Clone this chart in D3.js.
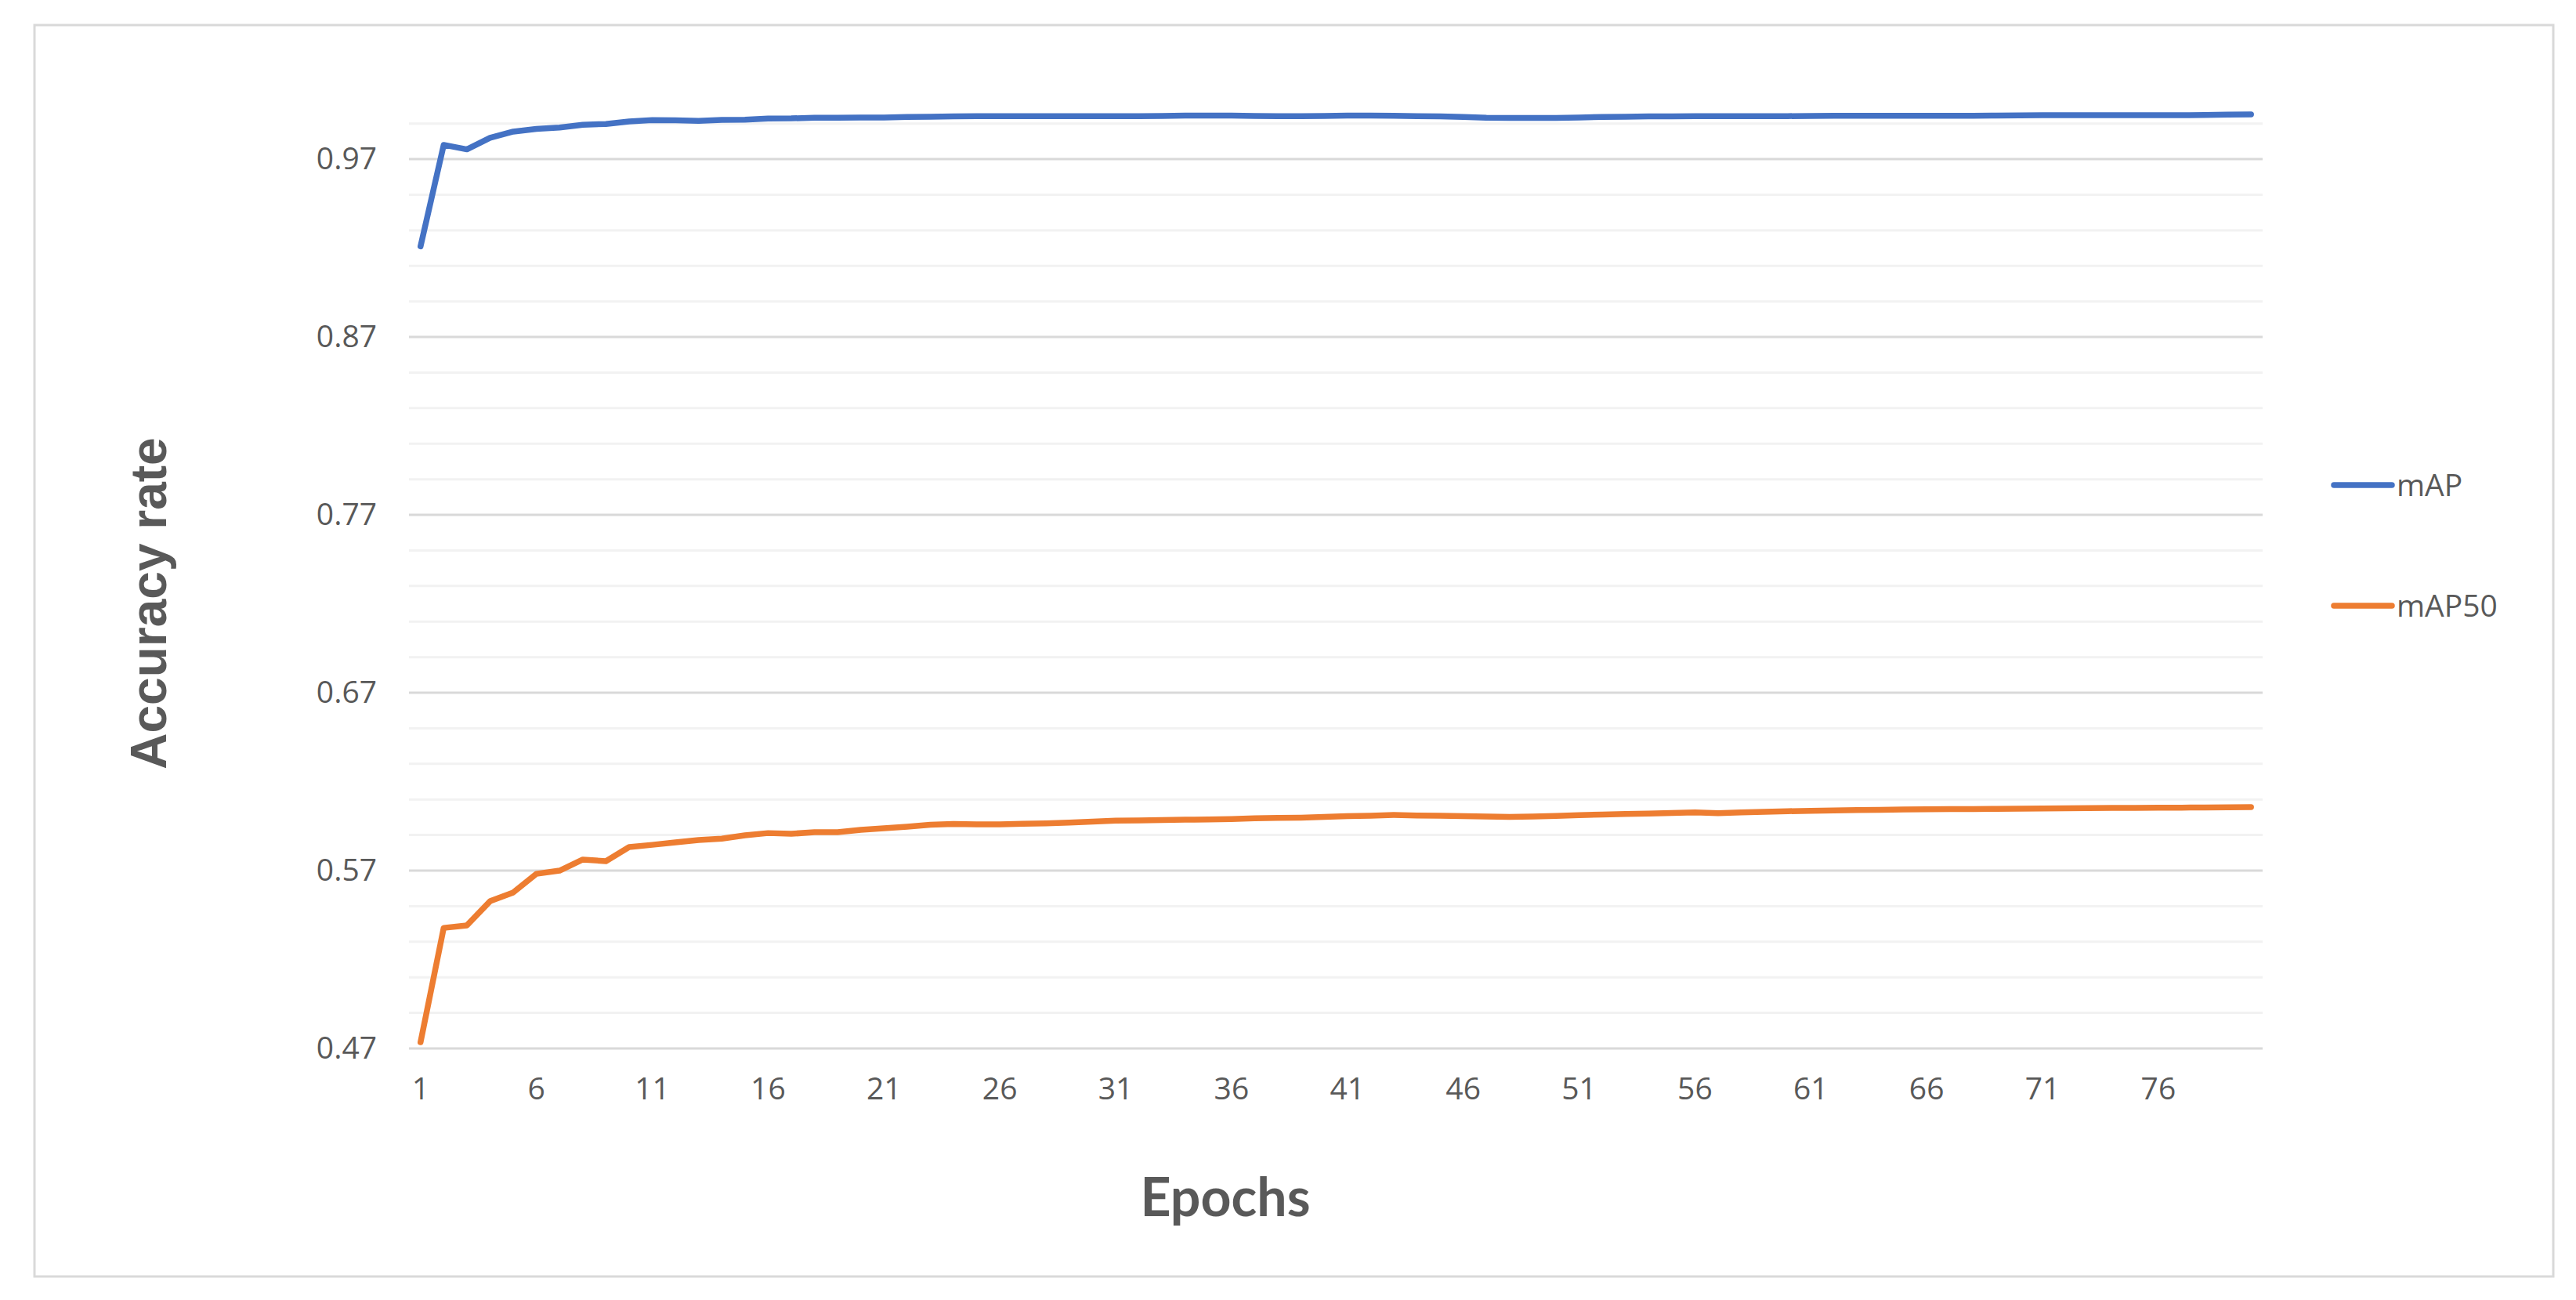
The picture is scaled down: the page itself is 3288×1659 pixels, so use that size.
<!DOCTYPE html>
<html>
<head>
<meta charset="utf-8">
<script src="https://cdn.jsdelivr.net/npm/d3@7"></script>
<style>
  html, body { margin: 0; padding: 0; background: #ffffff; }
  svg { display: block; }
</style>
</head>
<body>
<div id="chart"></div>
<script>
// Chart data
const epochs = d3.range(1, 81);

const mAP = [
  0.921, 0.978, 0.9755, 0.982, 0.9855, 0.987, 0.9878, 0.9893, 0.9898, 0.9912,
  0.992, 0.9918, 0.9915, 0.9921, 0.9922, 0.9928, 0.9929, 0.9933, 0.9933, 0.9934,
  0.9934, 0.9937, 0.9938, 0.9941, 0.9942, 0.9942, 0.9942, 0.9942, 0.9942, 0.9942,
  0.9942, 0.9942, 0.9943, 0.9945, 0.9945, 0.9945, 0.9943, 0.9942, 0.9942, 0.9943,
  0.9945, 0.9945, 0.9944, 0.9942, 0.9941, 0.9937, 0.9933, 0.9932, 0.9932, 0.9932,
  0.9934, 0.9937, 0.9938, 0.994, 0.9941, 0.9942, 0.9942, 0.9942, 0.9942, 0.9942,
  0.9943, 0.9944, 0.9944, 0.9944, 0.9944, 0.9944, 0.9944, 0.9944, 0.9945, 0.9946,
  0.9947, 0.9947, 0.9947, 0.9947, 0.9947, 0.9947, 0.9947, 0.9948, 0.995, 0.9952
];

const mAP50 = [
  0.4735, 0.5378, 0.5392, 0.5528, 0.5577, 0.5682, 0.570, 0.5762, 0.5753, 0.5832,
  0.5845, 0.5859, 0.5872, 0.588, 0.5898, 0.5911, 0.5907, 0.5916, 0.5916, 0.5929,
  0.5938, 0.5947, 0.5958, 0.5962, 0.596, 0.596, 0.5963, 0.5966, 0.597, 0.5975,
  0.5981, 0.5982, 0.5984, 0.5986, 0.5988, 0.599, 0.5994, 0.5996, 0.5998, 0.6002,
  0.6006, 0.6009, 0.6013, 0.6010, 0.6008, 0.6006, 0.6004, 0.6002, 0.6004, 0.6007,
  0.6012, 0.6015, 0.6018, 0.6021, 0.6024, 0.6027, 0.6023, 0.6027, 0.6031, 0.6034,
  0.6036, 0.6038, 0.604, 0.6042, 0.6044, 0.6045, 0.6046, 0.6046, 0.6047, 0.6048,
  0.6049, 0.605, 0.6051, 0.6052, 0.6053, 0.6054, 0.6054, 0.6055, 0.6056, 0.6057
];

const series = [
  { name: "mAP", values: mAP, color: "#4472C4" },
  { name: "mAP50", values: mAP50, color: "#ED7D31" }
];

const yMajorTicks = [0.47, 0.57, 0.67, 0.77, 0.87, 0.97];
const xTickLabels = [1, 6, 11, 16, 21, 26, 31, 36, 41, 46, 51, 56, 61, 66, 71, 76];

// Layout
const width = 3288;
const height = 1659;
const plot = { left: 522, right: 2888, top: 135, bottom: 1338 };

const svg = d3
  .select("#chart")
  .append("svg")
  .attr("width", width)
  .attr("height", height);

svg.append("rect")
  .attr("width", width)
  .attr("height", height)
  .attr("fill", "#ffffff");

// Outer chart border
svg.append("rect")
  .attr("x", 44)
  .attr("y", 32)
  .attr("width", 3215)
  .attr("height", 1597)
  .attr("fill", "none")
  .attr("stroke", "#d9d9d9")
  .attr("stroke-width", 3);

const x = d3.scaleBand()
  .domain(epochs)
  .range([plot.left, plot.right])
  .padding(0);

const y = d3.scaleLinear()
  .domain([0.47, 1.0])
  .range([plot.bottom, plot.top]);

const xc = (e) => x(e) + x.bandwidth() / 2;

// Minor gridlines every 0.02
const minorTicks = d3.range(0, 27).map((k) => +(0.47 + k * 0.02).toFixed(2));

svg.append("g")
  .selectAll("line.minor")
  .data(minorTicks.filter((v) => !yMajorTicks.includes(v)))
  .join("line")
  .attr("class", "minor")
  .attr("x1", plot.left)
  .attr("x2", plot.right)
  .attr("y1", (d) => y(d))
  .attr("y2", (d) => y(d))
  .attr("stroke", "#f2f2f2")
  .attr("stroke-width", 3);

// Major gridlines
svg.append("g")
  .selectAll("line.major")
  .data(yMajorTicks)
  .join("line")
  .attr("class", "major")
  .attr("x1", plot.left)
  .attr("x2", plot.right)
  .attr("y1", (d) => y(d))
  .attr("y2", (d) => y(d))
  .attr("stroke", "#d9d9d9")
  .attr("stroke-width", 3);

// Y axis labels
const yAxis = d3.axisLeft(y)
  .tickValues(yMajorTicks)
  .tickFormat(d3.format(".2f"))
  .tickSize(0)
  .tickPadding(0);

const yAxisG = svg.append("g")
  .attr("transform", `translate(481,0)`)
  .call(yAxis);
yAxisG.select(".domain").remove();
yAxisG.selectAll("text")
  .attr("fill", "#595959")
  .style("font-family", "'Open Sans', sans-serif")
  .style("font-size", "39px");

// X axis labels
const xAxis = d3.axisBottom(x)
  .tickValues(xTickLabels)
  .tickSize(0)
  .tickPadding(0);

const xAxisG = svg.append("g")
  .attr("transform", `translate(0,1375)`)
  .call(xAxis);
xAxisG.select(".domain").remove();
xAxisG.selectAll("text")
  .attr("fill", "#595959")
  .style("font-family", "'Open Sans', sans-serif")
  .style("font-size", "39px");

// Lines
const line = d3.line()
  .x((d, i) => xc(epochs[i]))
  .y((d) => y(d));

svg.append("g")
  .selectAll("path.series")
  .data(series)
  .join("path")
  .attr("class", "series")
  .attr("d", (s) => line(s.values))
  .attr("fill", "none")
  .attr("stroke", (s) => s.color)
  .attr("stroke-width", 7.5)
  .attr("stroke-linejoin", "round")
  .attr("stroke-linecap", "round");

// Axis titles
svg.append("text")
  .attr("transform", "translate(212,770) rotate(-90)")
  .attr("text-anchor", "middle")
  .attr("fill", "#595959")
  .style("font-family", "'Liberation Sans Narrow', 'Arial Narrow', sans-serif")
  .style("font-stretch", "condensed")
  .style("font-weight", "bold")
  .style("font-size", "64px")
  .text("Accuracy rate");

svg.append("text")
  .attr("x", 1564)
  .attr("y", 1552)
  .attr("text-anchor", "middle")
  .attr("fill", "#595959")
  .style("font-family", "Lato, sans-serif")
  .style("font-weight", "bold")
  .style("font-size", "68px")
  .text("Epochs");

// Legend
const legend = svg.append("g")
  .selectAll("g.legend")
  .data(series)
  .join("g")
  .attr("class", "legend")
  .attr("transform", (d, i) => `translate(2979,${619 + i * 154})`);

legend.append("line")
  .attr("x1", 0)
  .attr("x2", 74)
  .attr("y1", 0)
  .attr("y2", 0)
  .attr("stroke", (d) => d.color)
  .attr("stroke-width", 7.5)
  .attr("stroke-linecap", "round");

legend.append("text")
  .attr("x", 80)
  .attr("y", 14)
  .attr("fill", "#595959")
  .style("font-family", "'Open Sans', sans-serif")
  .style("font-size", "39px")
  .text((d) => d.name);
</script>
</body>
</html>
